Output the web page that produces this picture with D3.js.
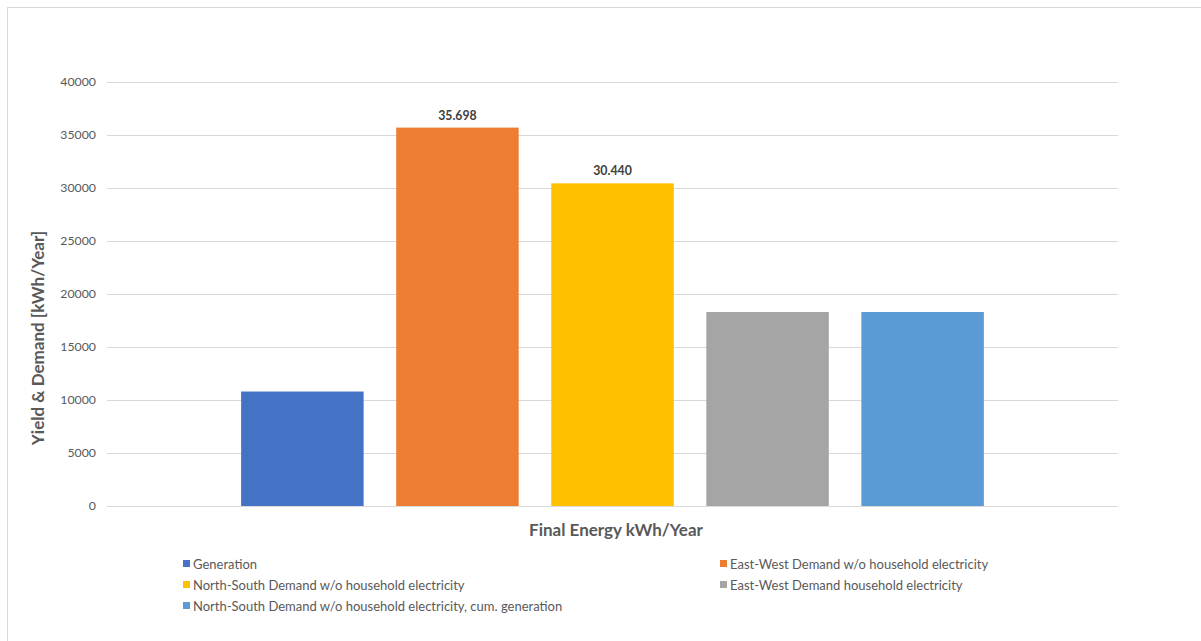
<!DOCTYPE html>
<html>
<head>
<meta charset="utf-8">
<script src="https://cdn.jsdelivr.net/npm/d3@7"></script>
<style>
  html, body { margin: 0; padding: 0; background: #ffffff; }
  svg { display: block; }
  text { font-family: Lato, "Open Sans", sans-serif; }
</style>
</head>
<body>
<svg id="chart" width="1201" height="641"></svg>
<script>
// Series shown as one cluster of bars
const seriesNames = [
  "Generation",
  "East-West Demand w/o household electricity",
  "North-South Demand w/o household electricity",
  "East-West Demand household electricity",
  "North-South Demand w/o household electricity, cum. generation"
];
const seriesValues = [10800, 35698, 30440, 18300, 18300];
const seriesColors = ["#4472C4", "#ED7D31", "#FFC000", "#A5A5A5", "#5B9BD5"];
// Only these bars carry a value label
const labelledSeries = [1, 2];
const yTicks = [0, 5000, 10000, 15000, 20000, 25000, 30000, 35000, 40000];
const yTitle = "Yield & Demand [kWh/Year]";
const xTitle = "Final Energy kWh/Year";

const svg = d3.select("#chart");

// chart frame
svg.append("rect")
  .attr("x", 7.5).attr("y", 7.5)
  .attr("width", 1210).attr("height", 650)
  .attr("fill", "none").attr("stroke", "#d9d9d9").attr("stroke-width", 1);

const plot = { left: 107, right: 1118, top: 82, bottom: 506 };

const y = d3.scaleLinear().domain([0, 40000]).range([plot.bottom, plot.top]);
const x = d3.scaleBand()
  .domain(d3.range(seriesNames.length))
  .range([plot.left, plot.right])
  .paddingInner(0.21)
  .paddingOuter(0.865);

// gridlines and tick labels via axis
const yAxis = d3.axisLeft(y).tickValues(yTicks)
  .tickSize(-(plot.right - plot.left)).tickPadding(11)
  .tickFormat(d3.format("d"));
const gy = svg.append("g")
  .attr("transform", `translate(${plot.left},0)`)
  .call(yAxis);
gy.select(".domain").remove();
gy.selectAll(".tick line").attr("stroke", "#d9d9d9").attr("stroke-width", 1);
gy.selectAll(".tick text")
  .attr("fill", "#595959")
  .style("font-size", "12.3px");

// bars
svg.append("g").selectAll("rect")
  .data(seriesValues)
  .join("rect")
  .attr("x", (d, i) => x(i))
  .attr("width", x.bandwidth())
  .attr("y", d => y(d))
  .attr("height", d => y(0) - y(d))
  .attr("fill", (d, i) => seriesColors[i]);

// value labels
const fmt = v => d3.format(",")(v).replace(",", ".");
svg.append("g").selectAll("text")
  .data(labelledSeries)
  .join("text")
  .attr("x", i => x(i) + x.bandwidth() / 2)
  .attr("y", i => y(seriesValues[i]) - 8)
  .attr("text-anchor", "middle")
  .attr("fill", "#404040")
  .style("font-size", "12.3px")
  .style("font-weight", "bold")
  .text(i => fmt(seriesValues[i]));

// axis titles
svg.append("text")
  .attr("transform", "translate(44,338) rotate(-90)")
  .attr("text-anchor", "middle")
  .attr("fill", "#595959")
  .style("font-size", "17px")
  .style("font-weight", "bold")
  .text(yTitle);

svg.append("text")
  .attr("x", 616).attr("y", 536)
  .attr("text-anchor", "middle")
  .attr("fill", "#595959")
  .style("font-size", "17px")
  .style("font-weight", "bold")
  .text(xTitle);

// legend: two columns, filled row by row
const legendCols = [183, 720];
const legendRows = [564, 585, 606];
const lg = svg.append("g").selectAll("g")
  .data(seriesNames)
  .join("g")
  .attr("transform", (d, i) => `translate(${legendCols[i % 2]},${legendRows[Math.floor(i / 2)]})`);
lg.append("rect")
  .attr("x", 0).attr("y", -4)
  .attr("width", 7).attr("height", 7)
  .attr("fill", (d, i) => seriesColors[i]);
lg.append("text")
  .attr("x", 10).attr("y", 0)
  .attr("dy", "0.35em")
  .attr("fill", "#595959")
  .style("font-size", "13px")
  .text(d => d);
</script>
</body>
</html>
